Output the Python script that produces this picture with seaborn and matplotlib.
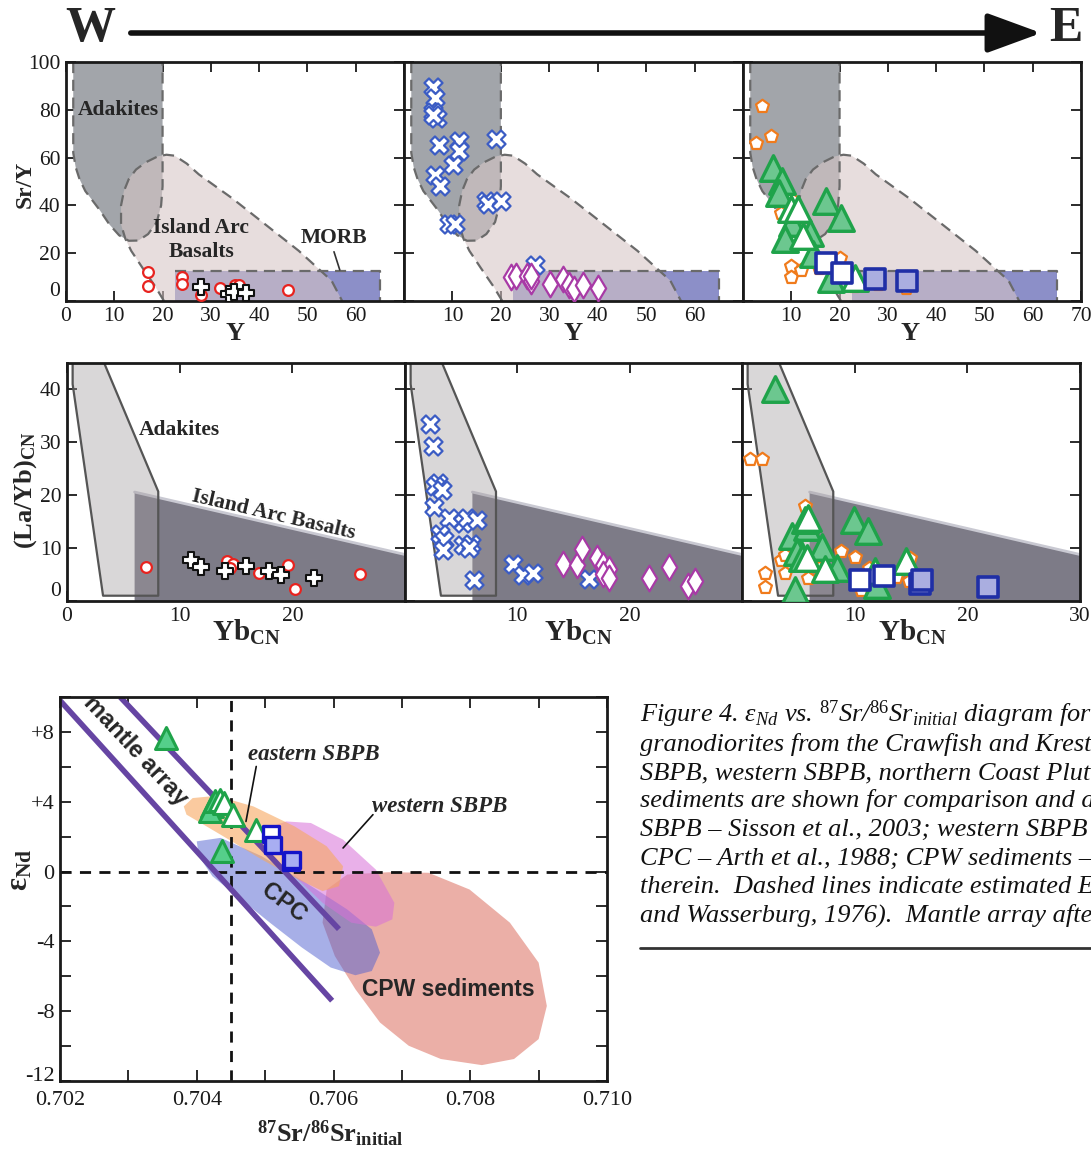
import numpy as np
import pandas as pd
import seaborn as sns
import matplotlib
matplotlib.use('Agg')
import matplotlib.pyplot as plt
from matplotlib.patches import FancyArrowPatch
from matplotlib.ticker import MultipleLocator

# ---------------------------------------------------------------- data ----
# Top row: Sr/Y vs Y  -- discrimination fields
ADK_TOP_X = [1.5, 1.5, 2.0, 2.8, 4.0, 5.5, 7.0, 9.0, 11.0, 13.0, 15.0, 17.0, 18.8, 19.7, 20.0, 20.0]
ADK_TOP_Y = [100, 62, 56, 51, 46, 42, 38, 32, 27.5, 25.2, 25.3, 28, 33, 40, 48, 100]
IAB_TOP_X = [20.3, 18.5, 15.8, 13.5, 12.3, 11.4, 11.4, 12.0, 13.0, 14.5, 16.5, 19.0, 20.8, 22.5, 25.0, 27.5, 34.4, 41.3, 48.2, 55.0, 57.2]
IAB_TOP_Y = [0, 6, 14, 21, 26, 32, 40, 46, 51, 55, 58, 60.5, 61.2, 60.8, 57.5, 53, 43, 32, 21, 8.5, 0]
MORB_X = [22.5, 65.0, 65.0, 22.5]
MORB_Y = [0.0, 0.0, 12.5, 12.5]

# Top row, panel 1 (western)
T1_CIRC_X = [17.0, 17.0, 24.0, 24.0, 27.9, 31.8, 34.9, 35.9, 46.0]
T1_CIRC_Y = [12.0, 6.1, 10.1, 7.1, 2.6, 5.3, 6.7, 6.5, 4.6]
T1_CROSS_X = [27.9, 33.7, 34.7, 37.2]
T1_CROSS_Y = [5.7, 2.9, 3.9, 3.2]
# Top row, panel 2
T2_XMARK_X = [5.9, 6.4, 5.9, 6.8, 6.0, 7.2, 11.3, 11.3, 10.1, 6.3, 7.4, 19.1, 17.0, 17.3, 20.0, 9.2, 10.5, 27.1]
T2_XMARK_Y = [89.7, 85.1, 79.0, 76.5, 77.7, 65.4, 67.1, 62.6, 56.8, 52.6, 48.0, 67.9, 41.8, 40.4, 41.8, 32.4, 32.4, 15.1]
T2_DIAM_X = [22.0, 23.1, 25.3, 26.2, 26.2, 30.2, 32.9, 34.0, 35.0, 36.9, 40.0]
T2_DIAM_Y = [10.1, 10.6, 10.4, 8.2, 10.6, 7.1, 9.2, 6.7, 5.0, 6.7, 5.3]
# Top row, panel 3 (eastern)
T3_PENT_X = [3.9, 2.7, 5.8, 10.0, 7.8, 10.8, 10.0, 10.0, 12.0, 15.8, 15.6, 20.0, 22.9, 23.7, 27.9, 33.8]
T3_PENT_Y = [81.7, 66.1, 68.9, 42.5, 37.0, 33.7, 14.7, 10.1, 12.9, 14.0, 18.1, 17.9, 6.1, 6.9, 7.2, 5.6]
T3_TRI_F_X = [6.2, 8.1, 7.4, 17.2, 20.2, 10.1, 8.6, 13.8, 14.5, 18.3]
T3_TRI_F_Y = [55.7, 50.1, 45.3, 41.8, 34.9, 32.8, 25.8, 28.6, 19.6, 9.2]
T3_TRI_O_X = [10.0, 11.3, 12.4, 23.1]
T3_TRI_O_Y = [38.3, 38.3, 27.2, 9.6]
T3_SQ_O_X = [17.2, 20.5]
T3_SQ_O_Y = [15.8, 11.9]
T3_SQ_F_X = [27.4, 34.0]
T3_SQ_F_Y = [9.2, 8.5]

# Middle row: (La/Yb)CN vs YbCN -- fields
ADK_MID_X = [0.5, 0.5, 3.2, 8.1, 8.1, 3.1]
ADK_MID_Y = [46.0, 41.0, 1.0, 1.0, 20.7, 46.0]
IAB_MID_X = [6.0, 6.0, 31.0, 31.0]
IAB_MID_Y = [0.0, 20.6, 8.3, 0.0]

M1_CIRC_X = [7.0, 14.2, 14.7, 14.5, 17.0, 19.6, 20.2, 26.0]
M1_CIRC_Y = [6.4, 7.5, 7.0, 6.3, 5.3, 6.8, 2.2, 5.1]
M1_CROSS_X = [11.0, 11.9, 14.0, 15.9, 17.9, 19.0, 21.9]
M1_CROSS_Y = [7.7, 6.4, 5.7, 6.6, 5.7, 4.9, 4.3]

M2_XMARK_X = [2.2, 2.5, 2.9, 2.7, 3.3, 2.6, 3.9, 3.1, 3.5, 3.4, 5.2, 5.5, 6.4, 5.2, 5.9, 5.7, 6.1, 9.6, 10.5, 11.4, 16.4]
M2_XMARK_Y = [33.5, 29.3, 22.3, 21.7, 21.0, 17.7, 15.7, 12.7, 11.6, 9.7, 14.7, 15.7, 15.3, 10.6, 10.7, 10.0, 4.0, 7.0, 4.9, 5.2, 4.2]
M2_DIAM_X = [14.1, 15.3, 15.8, 17.1, 17.6, 18.2, 17.6, 18.2, 21.7, 23.5, 25.2, 25.8]
M2_DIAM_Y = [7.0, 6.8, 9.8, 8.2, 6.8, 6.0, 5.1, 4.4, 4.4, 6.5, 2.9, 3.8]

M3_PENT_X = [0.7, 1.8, 5.6, 3.5, 3.8, 2.0, 2.0, 3.8, 5.9, 8.8, 10.0, 6.8, 13.7, 14.9, 10.6, 14.8, 11.3]
M3_PENT_Y = [26.8, 26.8, 17.9, 7.8, 8.7, 5.3, 2.6, 5.3, 4.4, 9.4, 8.4, 6.2, 4.6, 8.1, 2.1, 3.7, 6.3]
M3_TRI_F_X = [2.9, 4.4, 5.8, 5.6, 7.1, 4.9, 5.3, 8.4, 9.9, 11.2, 12.0, 4.7]
M3_TRI_F_Y = [40.0, 12.2, 13.9, 15.3, 10.3, 9.3, 8.1, 6.2, 15.4, 13.2, 3.0, 2.1]
M3_TRI_O_X = [5.9, 5.8, 7.4, 11.8, 14.6]
M3_TRI_O_Y = [15.6, 8.1, 6.1, 5.7, 7.5]
M3_SQ_O_X = [10.5, 12.6]
M3_SQ_O_Y = [3.9, 4.8]
M3_SQ_F_X = [15.8, 16.0, 21.8]
M3_SQ_F_Y = [3.2, 4.0, 2.6]

# Bottom: eNd vs 87Sr/86Sr
CPW_X = [0.70590, 0.70620, 0.70680, 0.70739, 0.70799, 0.70858, 0.70900, 0.70912, 0.70900, 0.70864,
         0.70817, 0.70757, 0.70710, 0.70668, 0.70632, 0.70602, 0.70584]
CPW_Y = [-1.03, -0.17, -0.04, -0.07, -1.03, -2.93, -5.22, -7.70, -9.60, -10.74,
         -11.09, -10.74, -9.98, -8.65, -6.74, -4.84, -2.93]
CPC_X = [0.70400, 0.70435, 0.70495, 0.70560, 0.70620, 0.70656, 0.70668, 0.70656, 0.70632, 0.70596,
         0.70554, 0.70507, 0.70459, 0.70423, 0.70403]
CPC_Y = [1.73, 1.93, 0.88, -0.65, -2.17, -3.31, -4.65, -5.70, -5.94, -5.50,
         -4.36, -2.93, -1.41, -0.27, 0.88]
WEST_X = [0.70510, 0.70531, 0.70567, 0.70614, 0.70662, 0.70689, 0.70686, 0.70662, 0.70626, 0.70584,
          0.70543, 0.70519, 0.70508]
WEST_Y = [2.59, 2.87, 2.78, 1.83, 0.11, -1.79, -2.74, -3.16, -2.93, -1.79, -0.27, 1.26, 2.02]
EAST_X = [0.70381, 0.70394, 0.70429, 0.70483, 0.70543, 0.70590, 0.70614, 0.70608, 0.70584, 0.70549,
          0.70495, 0.70447, 0.70406, 0.70385]
EAST_Y = [3.73, 4.21, 4.34, 3.73, 2.59, 1.45, 0.30, -0.84, -1.12, -0.46, 0.69, 1.83, 2.78, 3.26]
MANTLE_LOWER_X = [0.70200, 0.70598]
MANTLE_LOWER_Y = [9.8, -7.4]
MANTLE_UPPER_X = [0.70288, 0.70608]
MANTLE_UPPER_Y = [10.0, -3.3]
BSE_SR = 0.70450
BSE_ND = 0.0
B_TRI_F_X = [0.70355, 0.70422, 0.70419, 0.70426, 0.70437]
B_TRI_F_Y = [7.64, 3.73, 3.45, 4.02, 1.2]
B_TRI_O_X = [0.70434, 0.70440, 0.70453, 0.70486]
B_TRI_O_Y = [4.1, 3.92, 3.26, 2.4]
B_SQ_O_X = [0.70509]
B_SQ_O_Y = [2.17]
B_SQ_F_X = [0.70512, 0.70538, 0.70540]
B_SQ_F_Y = [1.54, 0.53, 0.65]

TOP_XTICKS = [0, 10, 20, 30, 40, 50, 60, 70]
TOP_YTICKS = [0, 20, 40, 60, 80, 100]
MID_XTICKS = [0, 10, 20, 30]
MID_YTICKS = [0, 10, 20, 30, 40]
B_XTICKS = [0.702, 0.704, 0.706, 0.708, 0.710]
B_XLABELS = ['0.702', '0.704', '0.706', '0.708', '0.710']
B_YTICKS = [-12, -8, -4, 0, 4, 8]
B_YLABELS = ['-12', '-8', '-4', '0', '+4', '+8']

CAPTION_LINES = [
    'Figure 4. $\\epsilon_{Nd}$ vs. $^{87}$Sr/$^{86}$Sr$_{initial}$ diagram for e',
    'granodiorites from the Crawfish and Krest',
    'SBPB, western SBPB, northern Coast Plut',
    'sediments are shown for comparison and a',
    'SBPB \u2013 Sisson et al., 2003; western SBPB',
    'CPC \u2013 Arth et al., 1988; CPW sediments \u2013',
    'therein.  Dashed lines indicate estimated E',
    'and Wasserburg, 1976).  Mantle array afte',
]

# ---------------------------------------------------------------- style ---
sns.set_theme(style='white')
plt.rcParams['font.family'] = ['Liberation Serif', 'DejaVu Serif']
plt.rcParams['mathtext.fontset'] = 'custom'
plt.rcParams['mathtext.rm'] = 'Liberation Serif'
plt.rcParams['mathtext.it'] = 'Liberation Serif:italic'
plt.rcParams['mathtext.bf'] = 'Liberation Serif:bold'
plt.rcParams['axes.unicode_minus'] = False

W, H = 1091, 1150
fig = plt.figure(figsize=(W / 100, H / 100), dpi=100)
fig.patch.set_facecolor('white')


def add_ax(l, t, r, b):
    return fig.add_axes([l / W, 1 - b / H, (r - l) / W, (b - t) / H])


def style(ax, labelsize=15.5, length=7):
    for s in ax.spines.values():
        s.set_linewidth(2.0)
        s.set_color('#1a1a1a')
    ax.set_facecolor('white')
    ax.tick_params(which='both', direction='in', top=True, right=True, bottom=True, left=True,
                   length=length, width=1.3, colors='#1a1a1a', labelsize=labelsize, pad=4)


def pt(ax, x, y, marker, s, face, edge, lw, z=3, alpha=1.0):
    sns.scatterplot(x=x, y=y, marker=marker, s=s, color=face, edgecolor=edge,
                    linewidth=lw, ax=ax, zorder=z, alpha=alpha, legend=False)


def lbl(ax, which, text, px, py, box, **kw):
    l, t, r, b = box
    fx = (px - l) / (r - l)
    fy = (b - py) / (b - t)
    if which == 'x':
        ax.set_xlabel(text, **kw)
        ax.xaxis.set_label_coords(fx, fy)
        ax.xaxis.label.set_verticalalignment('center')
    else:
        ax.set_ylabel(text, **kw)
        ax.yaxis.set_label_coords(fx, fy)
        ax.yaxis.label.set_verticalalignment('center')
        ax.yaxis.label.set_horizontalalignment('center')


RED = '#e8231f'
BLUEX = '#3b5cc4'
MAG = '#a83aa6'
ORANGE = '#f07b1c'
GREEN = '#1fa34a'
GREENF = '#6cc78f'
NAVY = '#1f2fa6'
NAVYF = '#aaaee0'
DASH = dict(color='#6a6a6a', lw=1.6, ls=(0, (5, 3)), zorder=1.6)

# ---------------------------------------------------------------- header --
fig.text(90 / W, 1 - 29 / H, 'W', fontsize=36, fontweight='bold', ha='center', va='center')
fig.text(1066 / W, 1 - 29 / H, 'E', fontsize=36, fontweight='bold', ha='center', va='center')
arr = FancyArrowPatch((128 / W, 1 - 33 / H), (1044 / W, 1 - 33 / H), transform=fig.transFigure,
                      arrowstyle='-|>,head_length=1.5,head_width=0.55', mutation_scale=22,
                      lw=4, color='#111111')
fig.add_artist(arr)

# ---------------------------------------------------------------- top row -
TOP_BOXES = [(66, 62, 404, 301), (404, 62, 743, 301), (743, 62, 1081, 301)]
top_axes = []
for i, box in enumerate(TOP_BOXES):
    ax = add_ax(*box)
    style(ax)
    ax.fill(ADK_TOP_X, ADK_TOP_Y, color='#a2a5aa', lw=0, zorder=1)
    ax.fill(MORB_X, MORB_Y, color='#8c8fc8', lw=0, zorder=1.1)
    ax.fill(IAB_TOP_X, IAB_TOP_Y, color='#d7c6c6', alpha=0.58, lw=0, zorder=1.2)
    ax.plot(ADK_TOP_X, ADK_TOP_Y, **DASH)
    ax.plot(IAB_TOP_X, IAB_TOP_Y, **DASH)
    ax.plot([MORB_X[0], MORB_X[1], MORB_X[1]], [MORB_Y[2], MORB_Y[2], MORB_Y[0]], **DASH)
    ax.set_xlim(0, 70)
    ax.set_ylim(0, 100)
    if i == 0:
        xl = [str(v) for v in TOP_XTICKS[:-1]] + ['']
    elif i == 1:
        xl = [''] + [str(v) for v in TOP_XTICKS[1:-1]] + ['']
    else:
        xl = [''] + [str(v) for v in TOP_XTICKS[1:]]
    ax.set_xticks(TOP_XTICKS, labels=xl)
    ax.set_yticks(TOP_YTICKS, labels=[str(v) for v in TOP_YTICKS])
    if i > 0:
        ax.tick_params(labelleft=False)
    else:
        ax.get_yticklabels()[0].set_va('bottom')
    lbl(ax, 'x', 'Y', [235, 573, 910][i], 333, box, fontsize=19, fontweight='bold')
    top_axes.append(ax)

ax = top_axes[0]
lbl(ax, 'y', 'Sr/Y', 25, 184, TOP_BOXES[0], fontsize=17, fontweight='bold')
ax.text(10.8, 80, 'Adakites', fontsize=15.5, fontweight='bold', ha='center', va='center', zorder=5)
ax.text(28.0, 25.5, 'Island Arc\nBasalts', fontsize=15.5, fontweight='bold', ha='center', va='center',
        linespacing=1.25, zorder=5)
ax.text(55.5, 26.5, 'MORB', fontsize=15.5, fontweight='bold', ha='center', va='center', zorder=5)
ax.plot([55.5, 56.7], [20.6, 13.0], color='#333333', lw=1.2, zorder=5)
pt(ax, T1_CIRC_X, T1_CIRC_Y, 'o', 60, 'white', RED, 1.6)
pt(ax, T1_CROSS_X, T1_CROSS_Y, 'P', 140, 'white', '#111111', 1.5, z=4)

ax = top_axes[1]
pt(ax, T2_XMARK_X, T2_XMARK_Y, 'X', 170, 'white', BLUEX, 1.6)
pt(ax, T2_DIAM_X, T2_DIAM_Y, 'd', 170, 'white', MAG, 1.6)

ax = top_axes[2]
pt(ax, T3_PENT_X, T3_PENT_Y, 'p', 95, 'white', ORANGE, 1.6)
pt(ax, T3_TRI_F_X, T3_TRI_F_Y, '^', 340, GREENF, GREEN, 2.4, z=4)
pt(ax, T3_TRI_O_X, T3_TRI_O_Y, '^', 340, 'white', GREEN, 2.4, z=4)
pt(ax, T3_SQ_O_X, T3_SQ_O_Y, 's', 200, 'white', NAVY, 2.6, z=5)
pt(ax, T3_SQ_F_X, T3_SQ_F_Y, 's', 200, NAVYF, NAVY, 2.6, z=5)

# ---------------------------------------------------------------- middle --
MID_BOXES = [(67, 363, 405, 601), (405, 363, 742, 601), (742, 363, 1080, 601)]
mid_axes = []
for i, box in enumerate(MID_BOXES):
    ax = add_ax(*box)
    style(ax)
    ax.fill(IAB_MID_X, IAB_MID_Y, color='#7d7b87', lw=0, zorder=1)
    ax.plot(IAB_MID_X[1:3], IAB_MID_Y[1:3], color='#c9c9d2', lw=2.0, zorder=1.1)
    ax.fill(ADK_MID_X, ADK_MID_Y, color='#a29b9e', alpha=0.4, lw=0, zorder=1.2)
    ax.plot(ADK_MID_X + ADK_MID_X[:1], ADK_MID_Y + ADK_MID_Y[:1], color='#555555', lw=1.6, zorder=1.5)
    ax.set_xlim(0, 30)
    ax.set_ylim(0, 45)
    if i == 0:
        xl = ['0', '10', '20', '']
    elif i == 1:
        xl = ['', '10', '20', '']
    else:
        xl = ['', '10', '20', '30']
    ax.set_xticks(MID_XTICKS, labels=xl)
    ax.set_yticks(MID_YTICKS, labels=[str(v) for v in MID_YTICKS])
    if i > 0:
        ax.tick_params(labelleft=False)
    else:
        ax.get_yticklabels()[0].set_va('bottom')
    lbl(ax, 'x', r'$\mathbf{Yb}_{\mathbf{CN}}$', [246, 578, 912][i], 632, box, fontsize=21)
    mid_axes.append(ax)

ax = mid_axes[0]
lbl(ax, 'y', r'$\mathbf{(La/Yb)}_{\mathbf{CN}}$', 26, 490, MID_BOXES[0], fontsize=19)
ax.text(10.0, 32.3, 'Adakites', fontsize=15.5, fontweight='bold', ha='center', va='center', zorder=5)
ax.text(18.3, 16.3, 'Island Arc Basalts', fontsize=15.5, fontweight='bold', ha='center', va='center',
        rotation=-13, rotation_mode='anchor', zorder=5)
pt(ax, M1_CIRC_X, M1_CIRC_Y, 'o', 60, 'white', RED, 1.6)
pt(ax, M1_CROSS_X, M1_CROSS_Y, 'P', 140, 'white', '#111111', 1.5, z=4)

ax = mid_axes[1]
pt(ax, M2_XMARK_X, M2_XMARK_Y, 'X', 170, 'white', BLUEX, 1.6)
pt(ax, M2_DIAM_X, M2_DIAM_Y, 'd', 170, 'white', MAG, 1.6)

ax = mid_axes[2]
pt(ax, M3_PENT_X, M3_PENT_Y, 'p', 95, 'white', ORANGE, 1.6)
pt(ax, M3_TRI_F_X, M3_TRI_F_Y, '^', 340, GREENF, GREEN, 2.4, z=4)
pt(ax, M3_TRI_O_X, M3_TRI_O_Y, '^', 340, 'white', GREEN, 2.4, z=4)
pt(ax, M3_SQ_O_X, M3_SQ_O_Y, 's', 200, 'white', NAVY, 2.6, z=5)
pt(ax, M3_SQ_F_X, M3_SQ_F_Y, 's', 200, NAVYF, NAVY, 2.6, z=5)

# ---------------------------------------------------------------- bottom --
BBOX = (60, 697, 607, 1081)
ax = add_ax(*BBOX)
style(ax, labelsize=16, length=8)
ax.tick_params(axis='x', pad=7)
ax.fill(CPW_X, CPW_Y, color='#d86050', alpha=0.5, lw=0, zorder=1)
ax.fill(CPC_X, CPC_Y, color='#5060d0', alpha=0.5, lw=0, zorder=1.1)
ax.fill(WEST_X, WEST_Y, color='#d870d8', alpha=0.55, lw=0, zorder=1.2)
ax.fill(EAST_X, EAST_Y, color='#f7a860', alpha=0.6, lw=0, zorder=1.3)
ax.axvline(BSE_SR, color='#111111', lw=2, ls=(0, (4, 3)), zorder=2)
ax.axhline(BSE_ND, color='#111111', lw=2, ls=(0, (4, 3)), zorder=2)
ax.plot(MANTLE_LOWER_X, MANTLE_LOWER_Y, color='#6645a3', lw=4, solid_capstyle='butt', zorder=2.5)
ax.plot(MANTLE_UPPER_X, MANTLE_UPPER_Y, color='#6645a3', lw=4, solid_capstyle='butt', zorder=2.5)
ax.set_xlim(0.702, 0.710)
ax.set_ylim(-12, 10)
ax.set_xticks(B_XTICKS, labels=B_XLABELS)
ax.set_yticks(B_YTICKS, labels=B_YLABELS)
ax.get_yticklabels()[0].set_va('baseline')
ax.xaxis.set_minor_locator(MultipleLocator(0.001))
ax.yaxis.set_minor_locator(MultipleLocator(2))
lbl(ax, 'x', r'$^{\mathbf{87}}\mathbf{Sr/}^{\mathbf{86}}\mathbf{Sr}_{\mathbf{initial}}$', 330, 1134, BBOX, fontsize=19)
lbl(ax, 'y', r'$\mathbf{\epsilon}_{\mathbf{Nd}}$', 20, 870, BBOX, fontsize=22)

sans = ['Liberation Sans', 'DejaVu Sans']
ax.text(0.70311, 6.9, 'mantle array', family=sans, fontsize=17, fontweight='bold', rotation=-47,
        rotation_mode='anchor', ha='center', va='center', zorder=6)
ax.text(0.70527, -1.8, 'CPC', family=sans, fontsize=17, fontweight='bold', rotation=-37,
        rotation_mode='anchor', ha='center', va='center', zorder=6)
ax.text(0.70768, -6.75, 'CPW sediments', family=sans, fontsize=16.5, fontweight='bold',
        ha='center', va='center', zorder=6)
ax.text(0.70571, 6.7, 'eastern SBPB', fontsize=16.5, fontweight='bold', style='italic',
        ha='center', va='center', zorder=6)
ax.text(0.70755, 3.7, 'western SBPB', fontsize=16.5, fontweight='bold', style='italic',
        ha='center', va='center', zorder=6)
ax.plot([0.70487, 0.70472], [6.02, 2.87], color='#111111', lw=1.2, zorder=6)
ax.plot([0.706577, 0.70614], [3.26, 1.35], color='#111111', lw=1.2, zorder=6)

pt(ax, B_TRI_F_X, B_TRI_F_Y, '^', 250, '#55cf8a', GREEN, 2.2, z=7)
pt(ax, B_TRI_O_X, B_TRI_O_Y, '^', 250, 'white', GREEN, 2.2, z=7)
pt(ax, B_SQ_O_X, B_SQ_O_Y, 's', 140, 'white', '#1414c8', 2.4, z=8)
pt(ax, B_SQ_F_X, B_SQ_F_Y, 's', 140, '#a8aef2', '#1414c8', 2.4, z=8)

# ---------------------------------------------------------------- caption -
for k, line in enumerate(CAPTION_LINES):
    fig.text(640 / W, 1 - (722 + 28.5 * k) / H, line, fontsize=19, style='italic',
             ha='left', va='baseline', color='#111111')
fig.add_artist(plt.Line2D([640 / W, 1.0], [1 - 948 / H, 1 - 948 / H], transform=fig.transFigure,
                          color='#333333', lw=2))

fig.savefig('out.png', dpi=100, facecolor='white')
